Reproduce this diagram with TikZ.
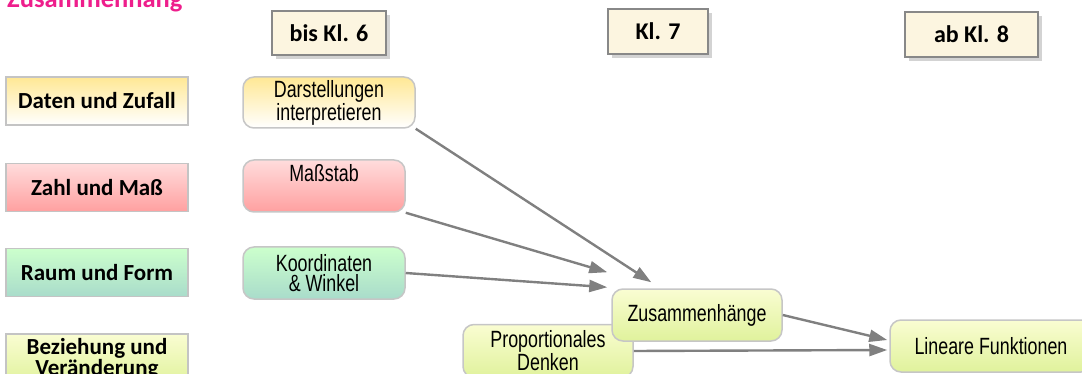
\documentclass[tikz,border=0pt]{standalone}
\usepackage{fontspec}
\newfontfamily\calfont{Carlito}
\newfontfamily\narrowfont{Liberation Sans}[FakeStretch=0.76]
\usetikzlibrary{arrows.meta,shadows}
\definecolor{titlemag}{HTML}{EE1E8C}
\definecolor{catborder}{HTML}{C4C4C4}
\definecolor{headborder}{HTML}{888888}
\definecolor{headfill}{HTML}{FCF5E0}
\definecolor{topborder}{HTML}{C6C6C6}
\definecolor{arrgray}{HTML}{808080}
\definecolor{yeltop}{HTML}{FFE27A}
\definecolor{pinktop}{HTML}{FFDCDC}
\definecolor{pinkbot}{HTML}{FFA0A0}
\definecolor{greentop}{HTML}{CCFFCC}
\definecolor{greenbot}{HTML}{A9DCCB}
\definecolor{limetop}{HTML}{FAFDD2}
\definecolor{limebot}{HTML}{E0F29C}
\begin{document}
\begin{tikzpicture}[x=1pt,y=-1pt,
  cat/.style={draw=catborder, line width=1.2pt, minimum width=182pt, minimum height=48pt,
    inner sep=0pt, align=center, font=\calfont\bfseries\fontsize{23}{19}\selectfont},
  head/.style={draw=headborder, line width=1.8pt, fill=headfill,
    drop shadow={opacity=0.35, shadow xshift=4pt, shadow yshift=-4pt},
    inner sep=0pt, font=\calfont\bfseries\fontsize{24}{24}\selectfont},
  topic/.style={draw=topborder, line width=1.5pt, rounded corners=11pt, inner sep=0pt,
    align=center, font=\narrowfont\fontsize{23.5}{19.5}\selectfont},
  ylw/.style={top color=yeltop!80, bottom color=white},
  pnk/.style={top color=pinktop, bottom color=pinkbot},
  grn/.style={top color=greentop, bottom color=greenbot},
  lim/.style={top color=limetop, bottom color=limebot},
  arr/.style={draw=arrgray, line width=2.4pt, -{Triangle[length=18pt,width=12pt]}}
]
\useasboundingbox (0,0) rectangle (1082,374);
\clip (0,0) rectangle (1082,374);

% title
\node[anchor=base west, inner sep=0pt, text=titlemag,
  font=\calfont\bfseries\fontsize{26.5}{26.5}\selectfont] (title) at (7,8) {Zusammenhang};

% category boxes
\node[cat, top color=yeltop!80, bottom color=white] (daten) at (97,101) {Daten und Zufall};
\node[cat, top color=pinktop, bottom color=pinkbot] (zahl) at (97,187.5) {Zahl und Maß};
\node[cat, top color=greentop, bottom color=greenbot] (raum) at (97,272.5) {Raum und Form};
\node[cat, top color=limetop, bottom color=limebot, minimum height=50pt] (bez) at (97,359) {Beziehung und\\Veränderung};

% header boxes
\node[head, minimum width=114pt, minimum height=44pt] (h6) at (329,33) {bis Kl. 6};
\node[head, minimum width=100pt, minimum height=45pt] (h7) at (658,31.5) {Kl. 7};
\node[head, minimum width=133pt, minimum height=45pt] (h8) at (971.5,34.5) {ab Kl. 8};

% topic nodes
\node[topic, ylw, minimum width=172pt, minimum height=51pt] (dar) at (329,102.5) {Darstellungen\\interpretieren};
\node[topic, pnk, minimum width=162pt, minimum height=52pt] (mas) at (324,186) {};
\node[anchor=base, inner sep=0pt, font=\narrowfont\fontsize{23.5}{19.5}\selectfont] (masT) at (324,182) {Maßstab};
\node[topic, grn, minimum width=162pt, minimum height=52pt] (kor) at (324,273) {Koordinaten\\\& Winkel};
\node[topic, lim, minimum width=170pt, minimum height=53pt] (prop) at (548,351) {Proportionales\\Denken};
\node[topic, lim, minimum width=170pt, minimum height=52pt] (zus) at (697,315) {Zusammenhänge};
\node[topic, lim, minimum width=202pt, minimum height=52pt] (lin) at (991,346) {Lineare Funktionen};

% connectors
\draw[arr] (dar.south east) -- ([xshift=40pt,yshift=6pt]zus.north west);
\draw[arr] (mas.south east) -- ([xshift=-4pt,yshift=16pt]zus.north west);
\draw[arr] (kor.east) -- ([xshift=-4pt,yshift=1pt]zus.north west);
\draw[arr] (zus.east) -- ([xshift=-2pt,yshift=6pt]lin.west);
\draw[arr] (prop.east) -- ([xshift=-2pt,yshift=-4pt]lin.west);
\end{tikzpicture}
\end{document}
